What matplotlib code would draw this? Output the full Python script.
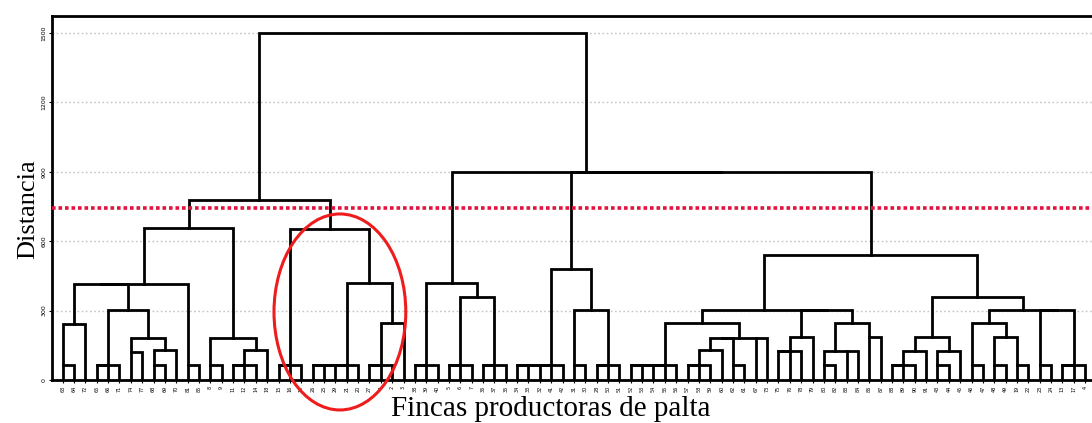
import matplotlib.pyplot as plt
from matplotlib.patches import Ellipse


def grp(h, *kids):
    # join the members one after another at the same distance
    node = kids[0]
    for k in kids[1:]:
        node = (node, k, h)
    return node


# ---- cluster tree (leaves are positions 0..90, heights are distances) ----
g_left_a = grp(415,
               grp(242, grp(65, 0, 1), 2),
               grp(303, grp(65, 3, 4, 5),
                   grp(182, grp(122, 6, 7), grp(130, grp(65, 8, 9), 10))),
               grp(65, 11, 12))
g_left_b = grp(182, grp(65, 13, 14), grp(130, grp(65, 15, 16, 17), 18))
g_circled = grp(653, grp(65, 19, 20, 21),
                grp(418, grp(65, 22, 23, 24, 25, 26),
                    grp(245, grp(65, 27, 28, 29), 30)))
g_left = grp(778, grp(657, g_left_a, g_left_b), g_circled)

g_a = grp(418, grp(65, 31, 32, 33),
          grp(360, grp(65, 34, 35, 36), grp(65, 37, 38, 39)))
g_b = grp(478, grp(65, 40, 41, 42, 43, 44),
          grp(303, grp(65, 45, 46), grp(65, 47, 48, 49)))
g_c1 = grp(245, grp(65, 50, 51, 52, 53, 54),
           grp(182, grp(182, grp(130, grp(65, 55, 56, 57), 58), grp(65, 59, 60)),
               grp(182, 61, 62)))
g_c2 = grp(184, grp(127, 63, 64, 65), 66)
g_c3 = grp(245, grp(127, grp(65, 67, 68), grp(127, 69, 70)), grp(184, 71, 72))
g_c4 = grp(184, grp(127, grp(65, 73, 74, 75), 76), grp(127, grp(65, 77, 78), 79))
g_c5 = grp(303,
           grp(245, grp(65, 80, 81), grp(184, grp(65, 82, 83), grp(65, 84, 85))),
           grp(303, grp(65, 86, 87), grp(65, 88, 89, 90)))
g_c = grp(540, grp(303, g_c1, grp(303, g_c2, g_c3)), grp(360, g_c4, g_c5))
g_right = grp(900, g_a, grp(900, g_b, g_c))
tree = grp(1500, g_left, g_right)

cut_height = 745

farm_ids = [63, 64, 72, 65, 66, 71, 74, 77, 68, 69, 70, 81, 85,
            8, 9, 11, 12, 14, 18, 15, 16, 10, 26, 25, 29, 21, 20,
            27, 1, 2, 3, 38, 39, 40, 5, 6, 7, 36, 37, 35, 34, 33,
            32, 41, 42, 31, 30, 28, 50, 51, 52, 53, 54, 55, 56, 57,
            58, 59, 60, 62, 61, 67, 73, 75, 76, 78, 79, 80, 82, 83,
            84, 86, 87, 88, 89, 90, 91, 43, 44, 45, 46, 47, 48, 49,
            19, 22, 23, 24, 13, 17, 4]

ytick_vals = [0, 300, 600, 900, 1200, 1500]

plt.rcParams['font.family'] = ['Liberation Serif', 'DejaVu Serif']

fig = plt.figure(figsize=(10.92, 4.23), dpi=100)
ax = fig.add_axes([52 / 1092, 43 / 423, 1 - 52 / 1092, 364 / 423])

for v in ytick_vals[1:]:
    ax.axhline(v, color='#c4c4c4', lw=1.0, ls=(0, (1.2, 1.8)), zorder=1)


def draw(node):
    # returns (anchor x, height) of the node and draws its U link;
    # a pair of single farms hangs from its first farm
    if isinstance(node, int):
        return node, 0
    xl, hl = draw(node[0])
    xr, hr = draw(node[1])
    h = node[2]
    ax.plot([xl, xl, xr, xr], [hl, h, h, hr], color='black', lw=2.0,
            solid_joinstyle='miter', zorder=3)
    if isinstance(node[0], int) and isinstance(node[1], int):
        return xl, h
    return (xl + xr) / 2, h


xc, hc = draw(tree)

ax.axhline(cut_height, color='#e3123f', lw=2.6, ls=(0, (1, 0.8)), zorder=4)

ring = Ellipse((24.4, 294), width=11.6, height=847, fill=False,
               edgecolor='#ee1c1c', lw=2.2, clip_on=False, zorder=5)
ax.add_patch(ring)

ax.set_xlim(-0.94, 90.6)
ax.set_ylim(0, 1573)

ax.set_xticks(range(len(farm_ids)))
ax.set_xticklabels([str(f) for f in farm_ids], rotation=90, fontsize=3.5,
                   family='DejaVu Sans')
ax.set_yticks(ytick_vals)
ax.set_yticklabels([str(v) for v in ytick_vals], rotation=90, fontsize=4.5,
                   va='center', family='DejaVu Sans')
ax.tick_params(axis='both', length=2, width=0.8, pad=2)

for side in ['left', 'bottom', 'top']:
    ax.spines[side].set_linewidth(2.0)
ax.spines['right'].set_visible(False)

ax.set_ylabel('Distancia', fontsize=19, va='center')
ax.yaxis.set_label_coords((28 - 52) / 1040, (380 - 209) / 364)
ax.set_xlabel('Fincas productoras de palta', fontsize=21, va='center')
ax.xaxis.set_label_coords((551 - 52) / 1040, (380 - 409) / 364)

fig.savefig('out.png', dpi=100, facecolor='white')
